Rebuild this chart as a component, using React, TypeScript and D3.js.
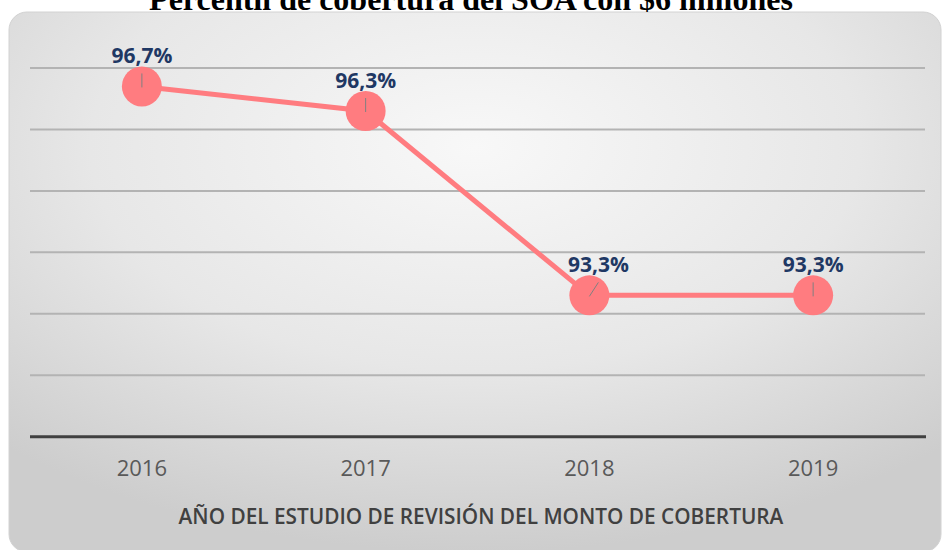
import React from "react";
import * as d3 from "d3";

const years = ["2016", "2017", "2018", "2019"];
const coverage = [96.7, 96.3, 93.3, 93.3];
const valueLabels = ["96,7%", "96,3%", "93,3%", "93,3%"];
const labelShift = [0, 0, 9, 0];
const yTicks = [91, 92, 93, 94, 95, 96, 97];

const W = 942;
const H = 550;

export default function App() {
  const x = d3.scalePoint<string>().domain(years).range([30, 925]).padding(0.5);
  const y = d3.scaleLinear().domain([91, 97]).range([436.7, 68]);
  const pts = years.map((yr, i) => ({ yr, v: coverage[i], cx: x(yr) as number, cy: y(coverage[i]) }));
  const line = d3
    .line<{ cx: number; cy: number }>()
    .x((d) => d.cx)
    .y((d) => d.cy);

  return (
    <svg
      width={W}
      height={H}
      style={{ position: "absolute", left: 0, top: 0, display: "block" }}
    >
      <defs>
        <radialGradient id="bg" cx="50%" cy="25%" r="75%" fx="50%" fy="25%">
          <stop offset="0%" stopColor="#f8f8f8" />
          <stop offset="55%" stopColor="#e7e7e7" />
          <stop offset="100%" stopColor="#cdcdcd" />
        </radialGradient>
      </defs>
      <rect width={W} height={H} fill="#ffffff" />
      <rect x={9} y={12} width={932} height={540} rx={18} ry={18} fill="url(#bg)" stroke="#d2d2d2" strokeWidth={1} />
      <text
        x={471}
        y={10}
        textAnchor="middle"
        fontFamily="'Liberation Serif', serif"
        fontWeight={700}
        fontSize={32}
        fill="#000"
      >
        Percentil de cobertura del SOA con $6 millones
      </text>
      {yTicks.slice(1).map((t) => (
        <line key={t} x1={30} x2={925} y1={y(t)} y2={y(t)} stroke="#b3b3b3" strokeWidth={2} />
      ))}
      <line x1={30} x2={926} y1={y(91)} y2={y(91)} stroke="#404040" strokeWidth={3} />
      {years.map((yr) => (
        <text
          key={yr}
          x={x(yr)}
          y={476}
          textAnchor="middle"
          fontFamily="'Open Sans', sans-serif"
          fontSize={22}
          fill="#595959"
        >
          {yr}
        </text>
      ))}
      <text
        x={481}
        y={524}
        textAnchor="middle"
        fontFamily="'Open Sans', sans-serif"
        fontWeight={600}
        fontSize={20.8}
        fill="#404040"
      >
        AÑO DEL ESTUDIO DE REVISIÓN DEL MONTO DE COBERTURA
      </text>
      <path d={line(pts) || ""} fill="none" stroke="#FF7C80" strokeWidth={5} />
      {pts.map((p, i) => (
        <g key={p.yr}>
          <circle cx={p.cx} cy={p.cy} r={20} fill="#FF7C80" />
          <line
            x1={p.cx + labelShift[i]}
            y1={p.cy - 13}
            x2={p.cx}
            y2={p.cy + 1}
            stroke="#808080"
            strokeWidth={1}
          />
          <text
            x={p.cx + labelShift[i]}
            y={p.cy - 23}
            textAnchor="middle"
            fontFamily="'Open Sans', sans-serif"
            fontWeight={700}
            fontSize={21}
            fill="#1F3864"
          >
            {valueLabels[i]}
          </text>
        </g>
      ))}
    </svg>
  );
}
